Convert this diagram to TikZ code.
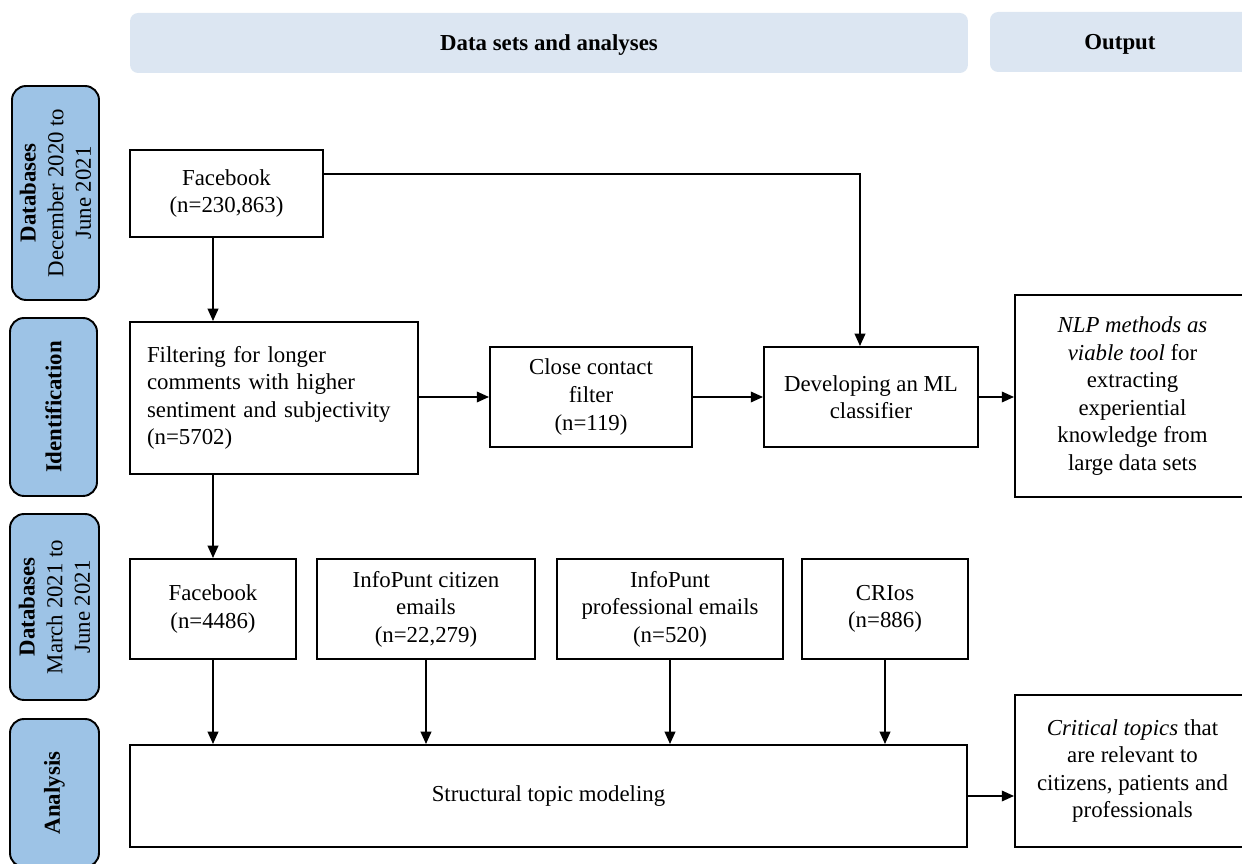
\documentclass[tikz,border=0pt]{standalone}
\usepackage{fontspec}
\setmainfont{Liberation Serif}
\usetikzlibrary{arrows.meta,calc}
\definecolor{bannerblue}{RGB}{220,230,242}
\definecolor{sideblue}{RGB}{157,195,230}
\begin{document}
\begin{tikzpicture}[x=0.02cm,y=-0.02cm,
  font=\fontsize{13}{15.7}\selectfont,
  box/.style={draw, line width=1.1pt, rectangle, inner sep=2pt, align=center},
  banner/.style={fill=bannerblue, rounded corners=0.16cm, inner sep=0pt, font=\fontsize{13}{15.7}\selectfont\bfseries},
  side/.style={draw, line width=1.1pt, fill=sideblue, rounded corners=0.28cm, rotate=90, align=center, inner sep=0pt},
  arr/.style={line width=1.1pt, -{Triangle[length=7pt,width=6pt]}},
  ln/.style={line width=1.1pt}]
\useasboundingbox (0,0) rectangle (1242,864);

% banners
\node[banner, minimum width=16.76cm, minimum height=1.2cm] (b1) at (549,43) {};
\node[font=\fontsize{13}{15.7}\selectfont\bfseries] (b1t) at (549,45) {Data sets and analyses};
\node[banner, minimum width=5.2cm, minimum height=1.2cm] (b2) at (1120,42) {};
\node[font=\fontsize{13}{15.7}\selectfont\bfseries] (b2t) at (1120,44) {Output};

% side labels
\node[side, minimum width=4.28cm, minimum height=1.74cm] (s1) at (55.5,193) {\textbf{Databases}\\December 2020 to\\June 2021};
\node[side, minimum width=3.56cm, minimum height=1.74cm] (s2) at (53.5,407) {\textbf{Identification}};
\node[side, minimum width=3.72cm, minimum height=1.78cm] (s3) at (54.5,607) {\textbf{Databases}\\March 2021 to\\June 2021};
\node[side, minimum width=2.96cm, minimum height=1.78cm] (s4) at (54.5,793) {\textbf{Analysis}};

% boxes
\node[box, minimum width=3.86cm, minimum height=1.74cm] (fb1) at (226.5,193.5) {Facebook\\(n=230,863)};
\node[box, minimum width=5.76cm, minimum height=3.04cm, text width=5.08cm, align=left] (filt) at (274,398) {Filtering for longer\\comments with higher\\sentiment and subjectivity\\(n=5702)};
\node[box, minimum width=4.04cm, minimum height=2.0cm] (close) at (591,397) {Close contact\\filter\\(n=119)};
\node[box, minimum width=4.28cm, minimum height=2.0cm] (ml) at (871,397) {Developing an ML\\classifier};
\node[box, minimum width=4.7cm, minimum height=4.04cm] (nlp) at (1132.5,396) {\textit{NLP methods as}\\\textit{viable tool} for\\extracting\\experiential\\knowledge from\\large data sets};

\node[box, minimum width=3.32cm, minimum height=2.0cm] (fb2) at (213,609) {Facebook\\(n=4486)};
\node[box, minimum width=4.36cm, minimum height=2.0cm] (ipc) at (426,609) {InfoPunt citizen\\emails\\(n=22,279)};
\node[box, minimum width=4.52cm, minimum height=2.0cm] (ipp) at (670,609) {InfoPunt\\professional emails\\(n=520)};
\node[box, minimum width=3.32cm, minimum height=2.0cm] (cri) at (885,609) {CRIos\\(n=886)};

\node[box, minimum width=16.74cm, minimum height=2.04cm] (stm) at (548.5,796) {Structural topic modeling};
\node[box, minimum width=4.7cm, minimum height=3.04cm] (crit) at (1132.5,771) {\textit{Critical topics} that\\are relevant to\\citizens, patients and\\professionals};

% connectors
\draw[arr] (fb2.north |- fb1.south) -- (fb2.north |- filt.north);
\coordinate (fbout) at ($(fb1.north east)!0.276!(fb1.south east)$);
\coordinate (mlin) at ([xshift=-0.22cm]ml.north);
\draw[arr] (fbout) -| (mlin);
\draw[arr] (filt.east |- close.west) -- (close.west);
\draw[arr] (close.east) -- (ml.west);
\draw[arr] (ml.east) -- (nlp.west |- ml.east);
\draw[arr] (fb2.north |- filt.south) -- (fb2.north);
\draw[arr] (fb2.south) -- (fb2.south |- stm.north);
\draw[arr] (ipc.south) -- (ipc.south |- stm.north);
\draw[arr] (ipp.south) -- (ipp.south |- stm.north);
\draw[arr] (cri.south) -- (cri.south |- stm.north);
\draw[arr] (stm.east) -- (crit.west |- stm.east);
\end{tikzpicture}
\end{document}
